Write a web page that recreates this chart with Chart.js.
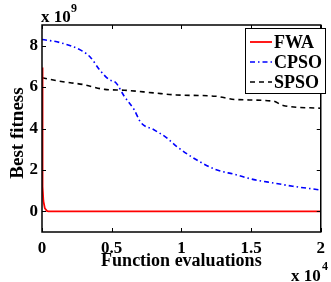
<!DOCTYPE html>
<html>
<head>
<meta charset="utf-8">
<script src="https://cdn.jsdelivr.net/npm/chart.js@4/dist/chart.umd.min.js"></script>
<style>
  html, body { margin: 0; padding: 0; background: #fff; }
  #c { display: block; }
</style>
</head>
<body>
<canvas id="c" width="331" height="282"></canvas>
<script>
// function evaluations (x 10^4) and best fitness (x 10^9)
const fwaX   = [0, 0.004, 0.01, 0.02, 0.035, 0.045, 2];
const fwaY   = [6.95, 1.2, 0.5, 0.15, 0.02, 0, 0];

const cpsoX  = [0, 0.13, 0.29, 0.35, 0.41, 0.48, 0.53, 0.59, 0.66, 0.71, 0.80, 0.895, 0.965, 1.105, 1.245, 1.385, 1.52, 1.66, 1.80, 2.0];
const cpsoY  = [8.3, 8.15, 7.74, 7.42, 6.86, 6.37, 6.21, 5.56, 4.92, 4.28, 3.95, 3.55, 3.14, 2.50, 2.02, 1.78, 1.53, 1.37, 1.21, 1.03];

const spsoX  = [0, 0.15, 0.29, 0.45, 0.59, 0.8, 0.965, 1.245, 1.385, 1.66, 1.73, 2.0];
const spsoY  = [6.45, 6.26, 6.13, 5.89, 5.85, 5.72, 5.62, 5.56, 5.40, 5.32, 5.11, 4.98];

const xTicks = [0, 0.5, 1, 1.5, 2];
const yTicks = [0, 2, 4, 6, 8];

const FONT = '"Liberation Serif", "Times New Roman", serif';

const pts = (xs, ys) => xs.map((x, i) => ({ x: x, y: ys[i] }));

// frame, inner ticks, titles, exponents, legend
const decor = {
  id: 'decor',
  afterDraw(chart) {
    const ctx = chart.ctx;
    const a = chart.chartArea;
    const xs = chart.scales.x, ys = chart.scales.y;
    ctx.save();
    ctx.strokeStyle = '#000';
    ctx.lineWidth = 1.5;
    ctx.strokeRect(a.left, a.top, a.right - a.left, a.bottom - a.top);

    ctx.lineWidth = 1;
    ctx.beginPath();
    for (let t of xTicks) {
      let px = Math.round(xs.getPixelForValue(t)) + 0.5;
      ctx.moveTo(px, a.bottom); ctx.lineTo(px, a.bottom - 4);
      ctx.moveTo(px, a.top); ctx.lineTo(px, a.top + 4);
    }
    for (let t of yTicks) {
      let py = Math.round(ys.getPixelForValue(t)) + 0.5;
      ctx.moveTo(a.left, py); ctx.lineTo(a.left + 4, py);
      ctx.moveTo(a.right, py); ctx.lineTo(a.right - 4, py);
    }
    ctx.stroke();

    ctx.fillStyle = '#000';
    ctx.font = 'bold 18px ' + FONT;
    ctx.textAlign = 'center';
    ctx.textBaseline = 'middle';
    ctx.fillText('Function evaluations', (a.left + a.right) / 2, 261);

    ctx.save();
    ctx.translate(18, 133);
    ctx.rotate(-Math.PI / 2);
    ctx.font = 'bold 19px ' + FONT;
    ctx.fillText('Best fitness', 0, 0);
    ctx.restore();

    // exponent labels
    ctx.textAlign = 'left';
    ctx.textBaseline = 'alphabetic';
    ctx.font = 'bold 17px ' + FONT;
    ctx.fillText('x 10', 41, 22);
    ctx.fillText('x 10', 291, 281);
    ctx.font = 'bold 12px ' + FONT;
    ctx.fillText('9', 71, 12);
    ctx.fillText('4', 322, 270);

    // legend box
    const lx = 245, ly = 28, lw = 80, lh = 65;
    ctx.fillStyle = '#fff';
    ctx.fillRect(lx, ly, lw, lh);
    ctx.lineWidth = 1;
    ctx.strokeStyle = '#000';
    ctx.strokeRect(lx + 0.5, ly + 0.5, lw, lh);
    chart.data.datasets.forEach((ds, i) => {
      let cy = 42 + i * 20;
      ctx.beginPath();
      ctx.strokeStyle = ds.borderColor;
      ctx.lineWidth = ds.borderWidth;
      ctx.setLineDash(ds.borderDash || []);
      ctx.moveTo(250, cy); ctx.lineTo(272, cy);
      ctx.stroke();
      ctx.setLineDash([]);
      ctx.fillStyle = '#000';
      ctx.font = 'bold 18px ' + FONT;
      ctx.textBaseline = 'middle';
      ctx.fillText(ds.label, 274, cy + 1);
    });
    ctx.restore();
  }
};

new Chart(document.getElementById('c'), {
  type: 'line',
  data: {
    datasets: [
      { label: 'FWA', data: pts(fwaX, fwaY), borderColor: '#ff0000', borderWidth: 1.8, pointRadius: 0, tension: 0 },
      { label: 'CPSO', data: pts(cpsoX, cpsoY), borderColor: '#0000ff', borderWidth: 1.6, borderDash: [5, 3, 1.5, 3], pointRadius: 0, cubicInterpolationMode: 'monotone' },
      { label: 'SPSO', data: pts(spsoX, spsoY), borderColor: '#000000', borderWidth: 1.6, borderDash: [5, 4], pointRadius: 0, cubicInterpolationMode: 'monotone' }
    ]
  },
  options: {
    responsive: false,
    animation: false,
    layout: { padding: { top: 25, right: 3, left: 0, bottom: 0 } },
    plugins: { legend: { display: false }, tooltip: { enabled: false } },
    scales: {
      x: {
        type: 'linear', min: 0, max: 2,
        afterBuildTicks: s => { s.ticks = xTicks.map(v => ({ value: v })); },
        afterFit: s => { s.height = 50; },
        grid: { display: false, drawTicks: false },
        border: { display: false },
        ticks: { padding: 6, color: '#000', font: { family: FONT, size: 17, weight: 'bold' }, maxRotation: 0,
                 callback: v => String(v) }
      },
      y: {
        type: 'linear', min: -1, max: 9,
        afterBuildTicks: s => { s.ticks = yTicks.map(v => ({ value: v })); },
        afterFit: s => { s.width = 42; },
        grid: { display: false, drawTicks: false },
        border: { display: false },
        ticks: { padding: 4, color: '#000', font: { family: FONT, size: 17, weight: 'bold' },
                 callback: v => String(v) }
      }
    }
  },
  plugins: [decor]
});
</script>
</body>
</html>
